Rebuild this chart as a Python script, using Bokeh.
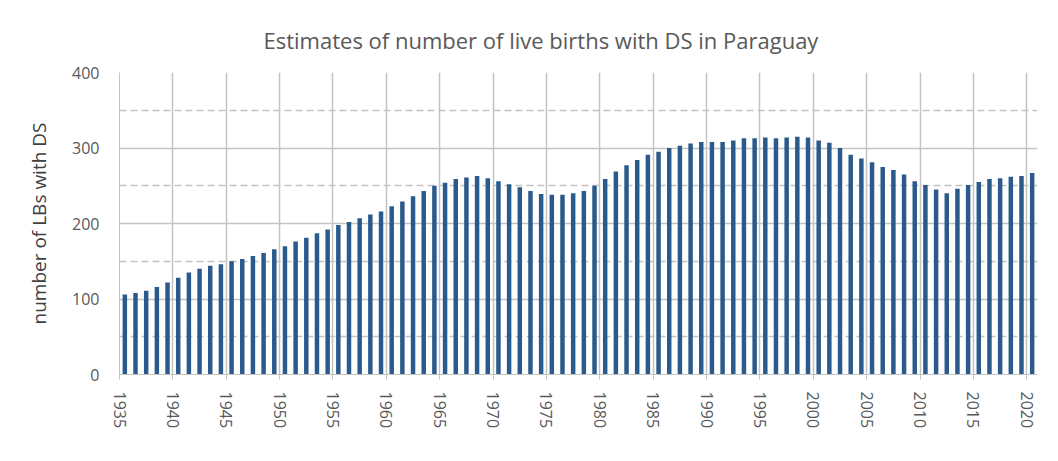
import math
from bokeh.plotting import figure
from bokeh.models import ColumnDataSource, Range1d, FixedTicker
from bokeh.transform import dodge
from bokeh.embed import file_html
from bokeh.resources import INLINE

years = list(range(1935, 2021))
births = [
    106, 108, 111, 116, 122, 128, 135, 140, 144, 146,
    150, 153, 157, 161, 166, 170, 176, 181, 187, 192,
    198, 202, 207, 212, 216, 223, 229, 236, 243, 250,
    254, 259, 261, 263, 260, 256, 252, 248, 243, 239,
    238, 238, 240, 243, 250, 259, 269, 277, 284, 291,
    295, 300, 303, 306, 308, 308, 308, 310, 313, 313,
    314, 313, 314, 315, 314, 310, 307, 300, 291, 286,
    281, 275, 271, 265, 256, 251, 245, 240, 246, 251,
    255, 259, 260, 262, 263, 267,
]
x_ticks = list(range(1935, 2021, 5))
y_ticks = [0, 100, 200, 300, 400]
y_minor = [50, 150, 250, 350]

title_text = "Estimates of number of live births with DS in Paraguay"
y_label = "number of LBs with DS"

TXT = "#595959"
GRID = "#c3c3c3"
FONT = "Open Sans"

source = ColumnDataSource(data=dict(year=years, births=births))

p = figure(
    width=1050, height=453,
    x_range=Range1d(1935, 2021), y_range=Range1d(0, 400),
    output_backend="svg", toolbar_location=None,
    min_border_left=119, min_border_right=13, min_border_top=72, min_border_bottom=79,
    title=title_text,
)
p.outline_line_color = None
p.background_fill_color = "white"
p.border_fill_color = "white"

p.title.align = "left"
p.title.offset = 144
p.title.standoff = 36
p.title.text_font = FONT
p.title.text_font_size = "22px"
p.title.text_font_style = "normal"
p.title.text_color = TXT

p.vbar(x=dodge("year", 0.5, range=p.x_range), top="births", width=0.42,
       bottom=0, source=source, fill_color="#2a5a8c", line_color=None)

# x axis
p.xaxis.ticker = FixedTicker(ticks=x_ticks)
p.xaxis.major_label_orientation = -math.pi / 2
p.xaxis.major_label_text_font = FONT
p.xaxis.major_label_text_font_size = "16px"
p.xaxis.major_label_text_color = TXT
p.xaxis.axis_line_color = GRID
p.xaxis.major_tick_line_color = GRID
p.xaxis.major_tick_out = 5
p.xaxis.major_tick_in = 0
p.xaxis.minor_tick_line_color = None
p.xaxis.major_label_standoff = 12

# y axis
p.yaxis.ticker = FixedTicker(ticks=y_ticks, minor_ticks=y_minor)
p.yaxis.major_label_text_font = FONT
p.yaxis.major_label_text_font_size = "16px"
p.yaxis.major_label_text_color = TXT
p.yaxis.axis_line_color = GRID
p.yaxis.major_tick_line_color = None
p.yaxis.minor_tick_line_color = None
p.yaxis.major_label_standoff = 14
p.yaxis.axis_label = y_label
p.yaxis.axis_label_text_font = FONT
p.yaxis.axis_label_text_font_size = "19px"
p.yaxis.axis_label_text_font_style = "normal"
p.yaxis.axis_label_text_color = "#404040"
p.yaxis.axis_label_standoff = 17

# grids
p.xgrid.grid_line_color = GRID
p.xgrid.grid_line_width = 1.5
p.ygrid.grid_line_color = GRID
p.ygrid.grid_line_width = 1.5
p.ygrid.minor_grid_line_color = GRID
p.ygrid.minor_grid_line_width = 1.5
p.ygrid.minor_grid_line_dash = "7 4"

open("out.html", "w").write(file_html(p, INLINE))
